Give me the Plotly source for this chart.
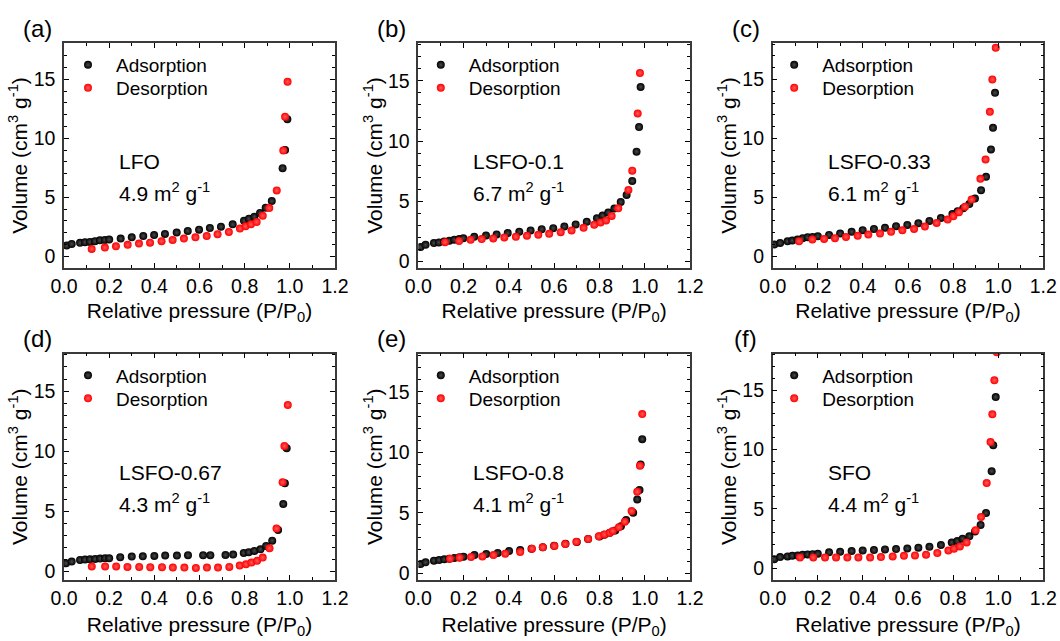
import plotly.graph_objects as go

# ---------------- data ----------------
panel_letters = ["(a)", "(b)", "(c)", "(d)", "(e)", "(f)"]
sample_names = ["LFO", "LSFO-0.1", "LSFO-0.33", "LSFO-0.67", "LSFO-0.8", "SFO"]
surface_areas = ["4.9", "6.7", "6.1", "4.3", "4.1", "4.4"]
series_names = ["Adsorption", "Desorption"]

a_ads_x = [0.012, 0.034, 0.071, 0.093, 0.115, 0.137, 0.159, 0.181, 0.2, 0.251, 0.3, 0.351, 0.399, 0.447, 0.499,
           0.548, 0.598, 0.646, 0.695, 0.747, 0.797, 0.819, 0.843, 0.868, 0.893, 0.92, 0.968, 0.979, 0.989]
a_ads_y = [0.90, 1.04, 1.13, 1.18, 1.21, 1.27, 1.35, 1.38, 1.41, 1.49, 1.60, 1.72, 1.80, 1.89, 2.0,
           2.14, 2.25, 2.39, 2.5, 2.7, 3.0, 3.18, 3.35, 3.66, 4.1, 4.67, 7.46, 9.0, 11.6]
a_des_x = [0.1225, 0.181, 0.23, 0.282, 0.332, 0.381, 0.432, 0.481, 0.531, 0.582, 0.632, 0.68, 0.73, 0.779,
           0.804, 0.828, 0.853, 0.88, 0.909, 0.942, 0.971, 0.979, 0.99]
a_des_y = [0.62, 0.73, 0.84, 0.96, 1.07, 1.15, 1.27, 1.38, 1.49, 1.60, 1.72, 1.86, 2.05, 2.34,
           2.53, 2.70, 2.90, 3.43, 4.08, 5.57, 8.95, 11.82, 14.78]

b_ads_x = [0.01, 0.032, 0.069, 0.091, 0.114, 0.137, 0.159, 0.181, 0.199, 0.247, 0.299, 0.346, 0.395, 0.446, 0.496,
           0.545, 0.596, 0.645, 0.695, 0.744, 0.789, 0.814, 0.839, 0.866, 0.894, 0.92, 0.945, 0.964, 0.975, 0.982]
b_ads_y = [1.19, 1.38, 1.52, 1.57, 1.65, 1.72, 1.80, 1.85, 1.93, 2.04, 2.15, 2.24, 2.35, 2.46, 2.57,
           2.68, 2.76, 2.9, 3.07, 3.29, 3.59, 3.81, 4.06, 4.39, 4.94, 5.52, 6.69, 9.12, 11.16, 14.5]
b_des_x = [0.118, 0.18, 0.231, 0.28, 0.331, 0.38, 0.431, 0.48, 0.53, 0.578, 0.629, 0.677, 0.73, 0.777,
           0.805, 0.829, 0.854, 0.883, 0.928, 0.945, 0.969, 0.979]
b_des_y = [1.60, 1.69, 1.80, 1.85, 1.91, 1.99, 2.04, 2.13, 2.21, 2.29, 2.43, 2.57, 2.79, 3.04,
           3.23, 3.40, 3.78, 4.42, 5.94, 7.54, 12.29, 15.66]

c_ads_x = [0.007, 0.033, 0.066, 0.087, 0.11, 0.133, 0.155, 0.177, 0.2, 0.25, 0.299, 0.35, 0.399, 0.449, 0.498,
           0.547, 0.597, 0.646, 0.695, 0.746, 0.797, 0.82, 0.845, 0.872, 0.897, 0.924, 0.946, 0.968, 0.977, 0.986]
c_ads_y = [0.99, 1.13, 1.27, 1.33, 1.42, 1.53, 1.61, 1.64, 1.70, 1.81, 1.92, 2.07, 2.21, 2.32, 2.41,
           2.55, 2.66, 2.80, 3.0, 3.25, 3.59, 3.82, 4.08, 4.44, 4.9, 5.6, 6.74, 9.06, 10.9, 13.87]
c_des_x = [0.117, 0.176, 0.228, 0.276, 0.325, 0.377, 0.424, 0.476, 0.525, 0.575, 0.627, 0.675, 0.727, 0.776,
           0.801, 0.826, 0.853, 0.882, 0.921, 0.944, 0.963, 0.974, 0.989]
c_des_y = [1.27, 1.42, 1.47, 1.53, 1.64, 1.73, 1.84, 1.92, 2.07, 2.21, 2.32, 2.52, 2.83, 3.11,
           3.40, 3.74, 4.19, 4.81, 6.57, 8.21, 12.26, 15.0, 17.69]

d_ads_x = [0.009, 0.034, 0.071, 0.093, 0.115, 0.138, 0.16, 0.182, 0.2, 0.249, 0.3, 0.349, 0.4, 0.448, 0.5,
           0.549, 0.616, 0.648, 0.715, 0.749, 0.796, 0.818, 0.843, 0.87, 0.895, 0.922, 0.948, 0.971, 0.978, 0.986]
d_ads_y = [0.69, 0.83, 0.97, 1.0, 1.02, 1.05, 1.08, 1.11, 1.11, 1.19, 1.25, 1.27, 1.30, 1.33, 1.33,
           1.36, 1.36, 1.36, 1.38, 1.41, 1.55, 1.61, 1.72, 1.85, 2.13, 2.57, 3.46, 5.62, 7.33, 10.24]
d_des_x = [0.123, 0.182, 0.231, 0.281, 0.333, 0.382, 0.434, 0.482, 0.533, 0.584, 0.633, 0.682, 0.732, 0.778,
           0.806, 0.83, 0.855, 0.88, 0.91, 0.941, 0.968, 0.976, 0.991]
d_des_y = [0.42, 0.42, 0.42, 0.39, 0.39, 0.36, 0.36, 0.33, 0.33, 0.30, 0.33, 0.33, 0.39, 0.5,
           0.61, 0.75, 0.89, 1.16, 1.94, 3.57, 7.42, 10.43, 13.84]

e_ads_x = [0.01, 0.032, 0.069, 0.092, 0.115, 0.137, 0.159, 0.182, 0.2, 0.248, 0.3, 0.351, 0.401, 0.45, 0.5,
           0.55, 0.6, 0.65, 0.7, 0.75, 0.8, 0.822, 0.846, 0.87, 0.895, 0.918, 0.949, 0.967, 0.977, 0.982, 0.989]
e_ads_y = [0.77, 0.91, 1.05, 1.10, 1.16, 1.21, 1.27, 1.32, 1.38, 1.51, 1.60, 1.68, 1.84, 1.93, 2.03,
           2.16, 2.28, 2.44, 2.6, 2.83, 3.05, 3.2, 3.35, 3.55, 3.9, 4.4, 5.01, 6.11, 6.88, 9.0, 11.09]
e_des_x = [0.14, 0.182, 0.233, 0.283, 0.332, 0.384, 0.45, 0.502, 0.55, 0.601, 0.649, 0.698, 0.75, 0.797,
           0.822, 0.846, 0.859, 0.886, 0.912, 0.942, 0.967, 0.979, 0.989]
e_des_y = [1.21, 1.29, 1.35, 1.40, 1.51, 1.62, 1.76, 2.04, 2.15, 2.26, 2.42, 2.61, 2.84, 3.06,
           3.22, 3.36, 3.50, 3.80, 4.27, 5.15, 6.74, 8.89, 13.16]

f_ads_x = [0.007, 0.033, 0.066, 0.087, 0.111, 0.133, 0.155, 0.177, 0.2, 0.25, 0.299, 0.35, 0.399, 0.449, 0.498,
           0.547, 0.597, 0.646, 0.695, 0.746, 0.794, 0.819, 0.842, 0.872, 0.897, 0.922, 0.946, 0.971, 0.978, 0.989]
f_ads_y = [0.76, 0.93, 0.99, 1.04, 1.07, 1.13, 1.16, 1.18, 1.21, 1.33, 1.38, 1.44, 1.49, 1.52, 1.58,
           1.61, 1.66, 1.72, 1.80, 1.95, 2.17, 2.28, 2.48, 2.68, 3.10, 3.64, 4.65, 8.18, 10.37, 14.43]
f_des_x = [0.121, 0.18, 0.232, 0.281, 0.331, 0.38, 0.432, 0.48, 0.532, 0.582, 0.631, 0.68, 0.73, 0.779,
           0.804, 0.83, 0.86, 0.9, 0.924, 0.949, 0.966, 0.974, 0.983, 0.994]
f_des_y = [0.90, 0.90, 0.90, 0.90, 0.90, 0.90, 0.90, 0.93, 0.99, 1.04, 1.07, 1.13, 1.27, 1.49,
           1.64, 1.83, 2.17, 3.19, 4.31, 7.19, 10.63, 12.97, 15.84, 18.2]

x_tick_vals = [0.0, 0.2, 0.4, 0.6, 0.8, 1.0, 1.2]
x_tick_text = ["0.0", "0.2", "0.4", "0.6", "0.8", "1.0", "1.2"]
y_tick_vals = [0, 5, 10, 15]
y_ranges = [[-1.0, 18.07], [-0.55, 18.15], [-1.0, 18.1], [-0.7, 18.12], [-0.55, 18.17], [-1.0, 18.1]]

# ---------------- layout helpers ----------------
W, H = 1060, 641
FONT = "Liberation Sans, Arial, sans-serif"
col_px = [(64, 335), (418.3, 690), (772.7, 1043.3)]
row_px = [(43, 268), (353.5, 580)]
legend_dx = [24, 22.5, 21.5]   # marker centre offset from frame left
legend_dy = [22, 45]           # marker centre offset from frame top

ads_sets = [(a_ads_x, a_ads_y), (b_ads_x, b_ads_y), (c_ads_x, c_ads_y),
            (d_ads_x, d_ads_y), (e_ads_x, e_ads_y), (f_ads_x, f_ads_y)]
des_sets = [(a_des_x, a_des_y), (b_des_x, b_des_y), (c_des_x, c_des_y),
            (d_des_x, d_des_y), (e_des_x, e_des_y), (f_des_x, f_des_y)]

fig = go.Figure()
layout = dict(
    template="none",
    width=W, height=H,
    margin=dict(l=0, r=0, t=0, b=0, pad=0, autoexpand=False),
    paper_bgcolor="white", plot_bgcolor="white",
    font=dict(family=FONT, color="black", size=19),
    annotations=[],
    showlegend=True,
)

black_marker = dict(color="#000000", size=8, line=dict(width=0),
                    gradient=dict(type="radial", color="#4a4a4a"))
red_marker = dict(color="#ff0000", size=8, line=dict(width=0),
                  gradient=dict(type="radial", color="#ff5c5c"))
markers = [black_marker, red_marker]

ITEMW = 46
for i in range(6):
    r, c = divmod(i, 3)
    x0, x1 = col_px[c]
    y0, y1 = row_px[r]
    xs = "" if i == 0 else str(i + 1)
    xname, yname = "xaxis" + xs, "yaxis" + xs
    xref, yref = "x" + xs, "y" + xs

    for k, (dset, nm) in enumerate(zip([ads_sets[i], des_sets[i]], series_names)):
        lnum = 2 * i + k + 1
        legname = "legend" if lnum == 1 else "legend" + str(lnum)
        fig.add_trace(go.Scatter(x=dset[0], y=dset[1], mode="markers", name=nm,
                                 marker=markers[k], xaxis=xref, yaxis=yref, legend=legname,
                                 showlegend=True))
        layout[legname] = dict(x=(x0 + legend_dx[c] - 5 - ITEMW / 2) / W, y=1 - (y0 + legend_dy[k]) / H,
                               xanchor="left", yanchor="middle",
                               bgcolor="rgba(0,0,0,0)", borderwidth=0, itemwidth=ITEMW,
                               font=dict(family=FONT, size=19))

    common = dict(showline=True, linecolor="#3a3a3a", linewidth=1.5, mirror="allticks",
                  ticks="inside", tickcolor="black", tickwidth=1, ticklen=5,
                  showgrid=False, zeroline=False, automargin=False,
                  tickfont=dict(family=FONT, size=19.5))
    minor_common = dict(ticks="inside", ticklen=3, tickcolor="black", tickwidth=1, showgrid=False)
    layout[xname] = dict(common, domain=[x0 / W, x1 / W], anchor=yref, range=[0, 1.2],
                         tickvals=x_tick_vals, ticktext=x_tick_text,
                         minor=dict(minor_common, dtick=0.1, tick0=0),
                         ticklabelstandoff=0,
                         title=dict(text="Relative pressure (P/P<sub>0</sub>)", font=dict(size=21),
                                    standoff=7 if r == 0 else 9))
    layout[yname] = dict(common, domain=[1 - y1 / H, 1 - y0 / H], anchor=xref, range=y_ranges[i],
                         tickvals=y_tick_vals,
                         minor=dict(minor_common, dtick=1, tick0=0),
                         ticklabelstandoff=3,
                         title=dict(text="Volume (cm<sup>3</sup> g<sup>-1</sup>)", font=dict(size=21), standoff=0))

    # panel letter
    layout["annotations"].append(dict(text=panel_letters[i], x=(x0 - 27) / W, y=1 - (y0 - 15) / H,
                                      xref="paper", yref="paper", xanchor="center", yanchor="middle",
                                      showarrow=False, font=dict(family=FONT, size=24)))
    # sample name and surface area
    layout["annotations"].append(dict(text=sample_names[i], x=(x0 + 53) / W, y=1 - (y0 + 119) / H,
                                      xref="paper", yref="paper", xanchor="left", yanchor="middle",
                                      showarrow=False, font=dict(family=FONT, size=21)))
    layout["annotations"].append(dict(text=surface_areas[i] + " m<sup>2</sup> g<sup>-1</sup>",
                                      x=(x0 + 53) / W, y=1 - (y0 + 149) / H,
                                      xref="paper", yref="paper", xanchor="left", yanchor="middle",
                                      showarrow=False, font=dict(family=FONT, size=21)))

fig.update_layout(**layout)
fig.write_html("out.html")
